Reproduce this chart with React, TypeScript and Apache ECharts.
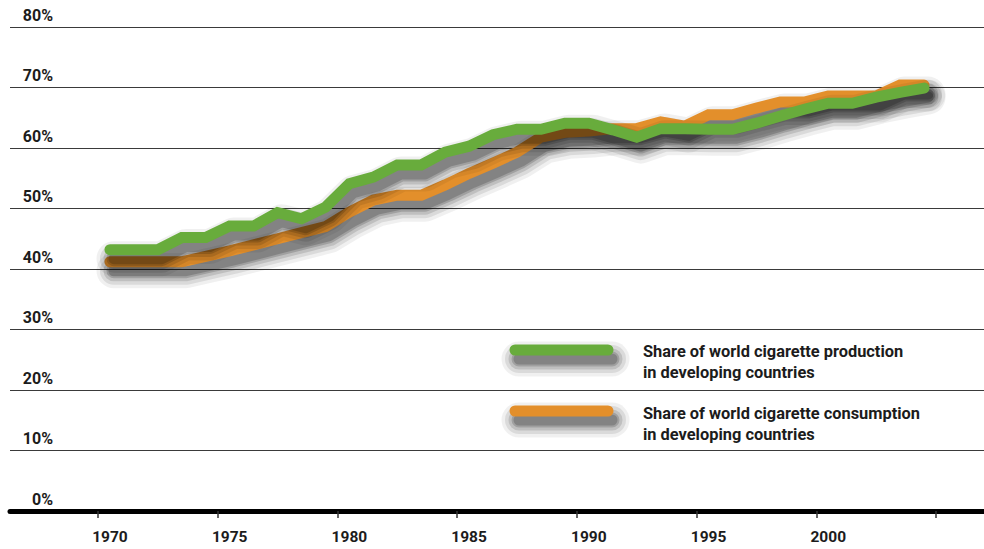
import React, { useEffect, useRef } from "react";
import * as echarts from "echarts";

const years: string[] = [];
for (let y = 1970; y <= 2004; y++) years.push(String(y));

const production = [
  43.2, 43.2, 43.2, 45.2, 45.2, 47.1, 47.1, 49.3, 48.3, 50.2,
  54.1, 55.2, 57.2, 57.2, 59.3, 60.3, 62.2, 63.1, 63.1, 64.1,
  64.1, 63.0, 61.8, 63.2, 63.2, 63.1, 63.1, 64.1, 65.3, 66.4,
  67.4, 67.4, 68.4, 69.2, 69.9,
];
const consumption = [
  41.2, 41.2, 41.2, 41.2, 42.1, 43.0, 44.0, 45.0, 46.0, 47.0,
  49.4, 51.4, 52.2, 52.2, 53.9, 55.8, 57.5, 59.3, 61.8, 62.6,
  62.8, 63.2, 63.2, 64.3, 63.6, 65.5, 65.5, 66.6, 67.6, 67.6,
  68.6, 68.6, 68.6, 70.4, 70.4,
];

const legendProduction = "Share of world cigarette production\nin developing countries";
const legendConsumption = "Share of world cigarette consumption\nin developing countries";

const GREEN = "#68ac3c";
const ORANGE = "#e38f2b";
const FONT = "Roboto, 'Open Sans', sans-serif";
const TEXT = "#1c1c1c";

// blurred-shadow approximation layers: [extra width, alpha]
const SHADOW_LAYERS: [number, number][] = [
  [24, 0.06],
  [17, 0.09],
  [10, 0.12],
  [4, 0.16],
  [0, 0.18],
];
const SH_DX = 4;
const SH_DY = 9;

export default function App() {
  const ref = useRef<HTMLDivElement>(null);
  useEffect(() => {
    if (!ref.current) return;
    const chart = echarts.init(ref.current, undefined, { renderer: "svg" });

    const lineSeries = (name: string, data: number[], color: string, z: number) => {
      const out: any[] = [];
      SHADOW_LAYERS.forEach(([extra, a], i) => {
        out.push({
          name: name + "-shadow-" + i,
          type: "line",
          xAxisIndex: 2,
          yAxisIndex: 2,
          data,
          symbol: "none",
          silent: true,
          clip: false,
          z: z,
          lineStyle: {
            color: `rgba(0,0,0,${a})`,
            width: 11 + extra,
            cap: "round",
            join: "round",
          },
        });
      });
      out.push({
        name,
        type: "line",
        xAxisIndex: 0,
        yAxisIndex: 0,
        data,
        symbol: "none",
        clip: false,
        z: z + 1,
        lineStyle: { color, width: 11, cap: "round", join: "miter" },
      });
      return out;
    };

    const legendSwatch = (y: number, color: string) => {
      const els: any[] = [];
      const x0 = 509.5;
      const w = 104;
      const h = 11;
      SHADOW_LAYERS.forEach(([extra, a]) => {
        const e = extra / 2;
        els.push({
          type: "rect",
          shape: {
            x: x0 + SH_DX - e,
            y: y - h / 2 + SH_DY - e,
            width: w + 2 * e,
            height: h + 2 * e,
            r: h / 2 + e,
          },
          style: { fill: `rgba(0,0,0,${a})` },
          z: 10,
          silent: true,
        });
      });
      els.push({
        type: "rect",
        shape: { x: x0, y: y - h / 2, width: w, height: h, r: h / 2 },
        style: { fill: color },
        z: 11,
      });
      return els;
    };

    chart.setOption({
      animation: false,
      backgroundColor: "#ffffff",
      grid: [
        { left: 98, right: 48, top: 27, bottom: 38 },
        { left: 10, right: 0, top: 27, bottom: 38 },
        { left: 98 + SH_DX, right: 48 - SH_DX, top: 27 + SH_DY, bottom: 38 - SH_DY },
      ],
      xAxis: [
        {
          type: "category",
          gridIndex: 0,
          data: years,
          boundaryGap: true,
          axisLine: { show: false },
          axisTick: { show: true, length: 7, lineStyle: { color: "#333", width: 1.5 } },
          axisLabel: {
            interval: 4,
            margin: 18,
            fontFamily: FONT,
            fontWeight: "bold",
            fontSize: 15.5,
            color: TEXT,
          },
          splitLine: { show: false },
        },
        {
          type: "value",
          gridIndex: 1,
          min: 0,
          max: 1,
          axisLine: { show: true, onZero: false, lineStyle: { color: "#000", width: 5 } },
          axisTick: { show: false },
          axisLabel: { show: false },
          splitLine: { show: false },
        },
        {
          type: "category",
          gridIndex: 2,
          data: years,
          boundaryGap: true,
          show: false,
        },
      ],
      yAxis: [
        {
          type: "value",
          gridIndex: 0,
          min: 0,
          max: 80,
          interval: 10,
          show: false,
          splitLine: { show: false },
        },
        {
          type: "value",
          gridIndex: 1,
          min: 0,
          max: 80,
          interval: 10,
          axisLine: { show: false },
          axisTick: { show: false },
          axisLabel: {
            inside: true,
            margin: 43,
            align: "right",
            verticalAlign: "bottom",
            padding: [0, 0, 4, 0],
            formatter: "{value}%",
            fontFamily: FONT,
            fontWeight: "bold",
            fontSize: 16,
            color: TEXT,
          },
          splitLine: { show: true, lineStyle: { color: "#3a3a3a", width: 1.2 } },
        },
        {
          type: "value",
          gridIndex: 2,
          min: 0,
          max: 80,
          interval: 10,
          show: false,
          splitLine: { show: false },
        },
      ],
      series: [
        ...lineSeries("consumption", consumption, ORANGE, 2),
        ...lineSeries("production", production, GREEN, 4),
      ],
      graphic: [
        ...legendSwatch(350, GREEN),
        {
          type: "text",
          x: 643,
          y: 340.5,
          style: {
            text: legendProduction,
            font: `bold 16.4px ${FONT}`,
            fill: TEXT,
            lineHeight: 21,
            textVerticalAlign: "top",
          },
          z: 12,
        },
        ...legendSwatch(411, ORANGE),
        {
          type: "text",
          x: 643,
          y: 402.5,
          style: {
            text: legendConsumption,
            font: `bold 16.4px ${FONT}`,
            fill: TEXT,
            lineHeight: 21,
            textVerticalAlign: "top",
          },
          z: 12,
        },
      ],
    });
    return () => chart.dispose();
  }, []);
  return (
    <div
      ref={ref}
      style={{ position: "fixed", left: 0, top: 0, width: 984, height: 549, background: "#fff" }}
    />
  );
}
